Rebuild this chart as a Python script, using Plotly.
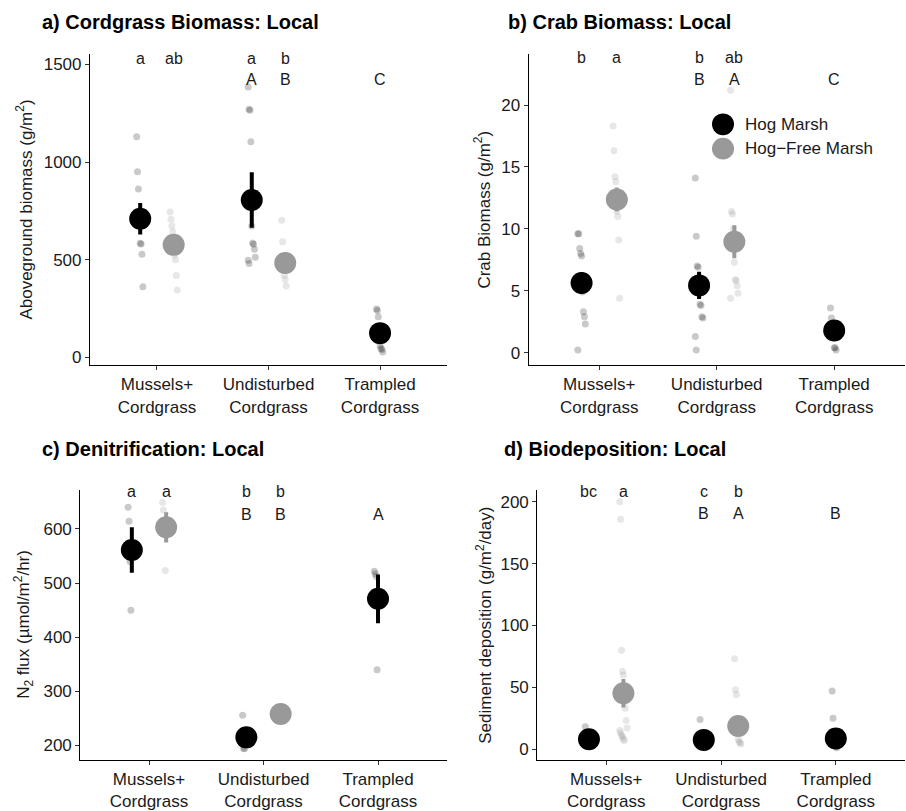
import plotly.graph_objects as go
import numpy as np

# ---------------------------------------------------------------- data
CATEGORIES = ["Mussels+<br>Cordgrass", "Undisturbed<br>Cordgrass", "Trampled<br>Cordgrass"]
GROUPS = ["Hog Marsh", "Hog\u2212Free Marsh"]

# a) Cordgrass biomass (g/m2)
A_HOG_MEAN = [710, 806, 124]
A_HOG_ERR = [81, 142, 30]
A_FREE_MEAN = [576, 483]
A_FREE_ERR = [40, 35]
A_HOG_RAW = [[1130, 950, 862, 700, 584, 580, 528, 362],
             [1384, 1270, 1265, 1104, 672, 585, 579, 553, 513, 497, 480],
             [247, 240, 208, 120, 60, 45, 40, 28]]
A_FREE_RAW = [[744, 707, 673, 643, 600, 525, 500, 419, 345],
              [702, 592, 483, 420, 399, 365]]
A_LOWER = ["a", "ab", "a", "b"]
A_UPPER = ["A", "B", "C"]
A_LETTER_Y = [1530, 1421]

# b) Crab biomass (g/m2)
B_HOG_MEAN = [5.63, 5.43, 1.78]
B_HOG_ERR = [0.86, 1.1, 0.5]
B_FREE_MEAN = [12.37, 8.96]
B_FREE_ERR = [0.97, 1.33]
B_HOG_RAW = [[9.6, 9.6, 8.4, 8.0, 7.8, 4.9, 3.3, 2.9, 2.3, 0.2],
             [14.1, 9.4, 7.0, 6.9, 5.0, 3.9, 3.8, 2.9, 2.8, 1.3, 0.2],
             [3.6, 2.8, 2.4, 1.5, 0.4, 0.4, 0.2]]
B_FREE_RAW = [[18.3, 16.3, 14.2, 13.8, 11.4, 11.0, 9.1, 4.4],
              [21.2, 11.4, 11.2, 10.0, 7.3, 5.9, 5.8, 5.4, 4.8, 4.4]]
B_LOWER = ["b", "a", "b", "ab"]
B_UPPER = ["B", "A", "C"]
B_LETTER_Y = [23.8, 22.05]

# c) Denitrification, N2 flux (umol/m2/hr)
C_HOG_MEAN = [561, 215, 471]
C_HOG_ERR = [42, 15, 45]
C_FREE_MEAN = [603, 258]
C_FREE_ERR = [28, 15]
C_HOG_RAW = [[640, 614, 540, 450], [256, 195, 194], [522, 517, 512, 340]]
C_FREE_RAW = [[649, 635, 605, 523], [265, 258, 251]]
C_LOWER = ["a", "a", "b", "b"]
C_UPPER = ["B", "B", "A"]
C_LETTER_Y = [669, 627.5]

# d) Biodeposition, sediment deposition (g/m2/day)
D_HOG_MEAN = [8.0, 7.4, 8.5]
D_HOG_ERR = [3, 3, 3]
D_FREE_MEAN = [45.2, 18.6]
D_FREE_ERR = [11.5, 5]
D_HOG_RAW = [[18, 12, 8, 6, 4, 2], [24, 8, 5, 3, 2, 1], [47, 25, 5, 3, 2, 1]]
D_FREE_RAW = [[200, 186, 80, 63, 60, 38, 33, 23, 17, 15, 13, 11, 10, 8, 7],
              [73, 48, 44, 20, 8, 6, 5, 4]]
D_LOWER = ["bc", "a", "c", "b"]
D_UPPER = ["B", "A", "B"]
D_LETTER_Y = [208.3, 190.2]

# ---------------------------------------------------------------- style
W, H = 906, 811
FONT = "Liberation Sans, Arial, Helvetica, sans-serif"
TEXT = "#1a1a1a"
HOG_COL = "black"
FREE_COL = "#999999"
HOG_RAW_COL = "rgba(0,0,0,0.21)"
FREE_RAW_COL = "rgba(153,153,153,0.24)"
DODGE = 0.15
MEAN_SIZE = 22
RAW_SIZE = 7


def px_x(p):
    return p / W


def px_y(p):
    return 1 - p / H


def jitter(n):
    return (((np.arange(n) * 37) % 9) - 4) * 0.008


panels = [
    dict(title="a) Cordgrass Biomass: Local", tx=40, ty=22.7,
         ytitle="Aboveground biomass (g/m<sup>2</sup>)", ytx=24,
         dom_x=(90, 447), dom_y=(55, 370), yrange=[-39, 1552], dtick=500,
         hog_mean=A_HOG_MEAN, hog_err=A_HOG_ERR, free_mean=A_FREE_MEAN, free_err=A_FREE_ERR,
         hog_raw=A_HOG_RAW, free_raw=A_FREE_RAW, lower=A_LOWER, upper=A_UPPER, ly=A_LETTER_Y),
    dict(title="b) Crab Biomass: Local", tx=506.3, ty=22.7,
         ytitle="Crab Biomass (g/m<sup>2</sup>)", ytx=482,
         dom_x=(528.7, 904.7), dom_y=(55, 370), yrange=[-1.0, 24.1], dtick=5,
         hog_mean=B_HOG_MEAN, hog_err=B_HOG_ERR, free_mean=B_FREE_MEAN, free_err=B_FREE_ERR,
         hog_raw=B_HOG_RAW, free_raw=B_FREE_RAW, lower=B_LOWER, upper=B_UPPER, ly=B_LETTER_Y),
    dict(title="c) Denitrification: Local", tx=40, ty=455,
         ytitle="N<sub>2</sub> flux (\u00b5mol/m<sup>2</sup>/hr)", ytx=24,
         dom_x=(80.3, 446.7), dom_y=(496.7, 770), yrange=[174, 672], dtick=100,
         hog_mean=C_HOG_MEAN, hog_err=C_HOG_ERR, free_mean=C_FREE_MEAN, free_err=C_FREE_ERR,
         hog_raw=C_HOG_RAW, free_raw=C_FREE_RAW, lower=C_LOWER, upper=C_UPPER, ly=C_LETTER_Y),
    dict(title="d) Biodeposition: Local", tx=502.3, ty=455,
         ytitle="Sediment deposition (g/m<sup>2</sup>/day)", ytx=484,
         dom_x=(537.3, 904.7), dom_y=(496.7, 770), yrange=[-8.5, 209.6], dtick=50,
         hog_mean=D_HOG_MEAN, hog_err=D_HOG_ERR, free_mean=D_FREE_MEAN, free_err=D_FREE_ERR,
         hog_raw=D_HOG_RAW, free_raw=D_FREE_RAW, lower=D_LOWER, upper=D_UPPER, ly=D_LETTER_Y),
]

fig = go.Figure()
annotations = []
layout_axes = {}

n_cat = len(CATEGORIES)
cat_pos = np.arange(1, n_cat + 1)
n_free = 2  # groups with both marsh types
hog_x = np.array([c - DODGE if i < n_free else c for i, c in enumerate(cat_pos)], dtype=float)
free_x = np.array([c + DODGE for c in cat_pos[:n_free]], dtype=float)

for k, p in enumerate(panels, start=1):
    xa = "x" if k == 1 else f"x{k}"
    ya = "y" if k == 1 else f"y{k}"

    # raw observations (under the means)
    for raw_sets, xs, col in ((p["hog_raw"], hog_x, HOG_RAW_COL), (p["free_raw"], free_x, FREE_RAW_COL)):
        rx, ry = [], []
        for vals, x0 in zip(raw_sets, xs):
            rx.extend(x0 + jitter(len(vals)))
            ry.extend(vals)
        fig.add_trace(go.Scatter(
            x=rx, y=ry, xaxis=xa, yaxis=ya, mode="markers", showlegend=False,
            marker=dict(size=RAW_SIZE, color=col, line=dict(width=0)), hoverinfo="y"))

    # group means with standard-error bars
    for means, errs, xs, col, name in ((p["hog_mean"], p["hog_err"], hog_x, HOG_COL, GROUPS[0]),
                                       (p["free_mean"], p["free_err"], free_x, FREE_COL, GROUPS[1])):
        fig.add_trace(go.Scatter(
            x=xs, y=means, xaxis=xa, yaxis=ya, mode="markers", name=name, showlegend=False,
            marker=dict(size=MEAN_SIZE, color=col, line=dict(width=0)),
            error_y=dict(type="data", array=errs, visible=True, color=col, thickness=4, width=0)))

    # significance letters
    low_x = [hog_x[0], free_x[0], hog_x[1], free_x[1]]
    up_x = [hog_x[1], free_x[1], hog_x[2]]
    for txt, x in zip(p["lower"], low_x):
        annotations.append(dict(x=x, y=p["ly"][0], xref=xa, yref=ya, text=txt, showarrow=False,
                                font=dict(size=16, color=TEXT, family=FONT)))
    for txt, x in zip(p["upper"], up_x):
        annotations.append(dict(x=x, y=p["ly"][1], xref=xa, yref=ya, text=txt, showarrow=False,
                                font=dict(size=16, color=TEXT, family=FONT)))

    # panel title
    annotations.append(dict(x=px_x(p["tx"]), y=px_y(p["ty"]), xref="paper", yref="paper",
                            xanchor="left", yanchor="middle", showarrow=False,
                            text=f"<b>{p['title']}</b>", font=dict(size=20, color="black", family=FONT)))
    # y axis title
    annotations.append(dict(x=px_x(p["ytx"]), y=px_y(sum(p["dom_y"]) / 2), xref="paper", yref="paper",
                            xanchor="center", yanchor="middle", textangle=-90, showarrow=False,
                            text=p["ytitle"], font=dict(size=17, color=TEXT, family=FONT)))

    axis_common = dict(showgrid=False, zeroline=False, showline=True, linecolor="black", linewidth=1.2,
                       ticks="outside", ticklen=4, tickwidth=1.1, tickcolor="#333333",
                       tickfont=dict(size=17, color=TEXT, family=FONT))
    layout_axes["xaxis" if k == 1 else f"xaxis{k}"] = dict(
        axis_common, domain=[px_x(p["dom_x"][0]), px_x(p["dom_x"][1])], anchor=ya,
        range=[0.4, 3.6], tickmode="array", tickvals=list(cat_pos), ticktext=CATEGORIES)
    layout_axes["yaxis" if k == 1 else f"yaxis{k}"] = dict(
        axis_common, domain=[px_y(p["dom_y"][1]), px_y(p["dom_y"][0])], anchor=xa,
        range=p["yrange"], tick0=0, dtick=p["dtick"])

# legend inside panel b, drawn as keys + labels
shapes = []
LEG_X, LEG_Y, LEG_R, LEG_GAP = 723, 126, 11, 24.7
for i, (name, col) in enumerate(zip(GROUPS, (HOG_COL, FREE_COL))):
    cy = LEG_Y + i * LEG_GAP
    shapes.append(dict(type="circle", xref="paper", yref="paper",
                       x0=px_x(LEG_X - LEG_R), x1=px_x(LEG_X + LEG_R),
                       y0=px_y(cy + LEG_R), y1=px_y(cy - LEG_R),
                       fillcolor=col, line=dict(width=0)))
    annotations.append(dict(x=px_x(LEG_X + 20), y=px_y(cy), xref="paper", yref="paper",
                            xanchor="left", yanchor="middle", showarrow=False, text=name,
                            font=dict(size=17, color=TEXT, family=FONT)))

fig.update_layout(
    width=W, height=H, margin=dict(l=0, r=0, t=0, b=0),
    paper_bgcolor="white", plot_bgcolor="white",
    font=dict(family=FONT, color=TEXT),
    showlegend=False, annotations=annotations, shapes=shapes,
    **layout_axes)

fig.write_html("out.html")
